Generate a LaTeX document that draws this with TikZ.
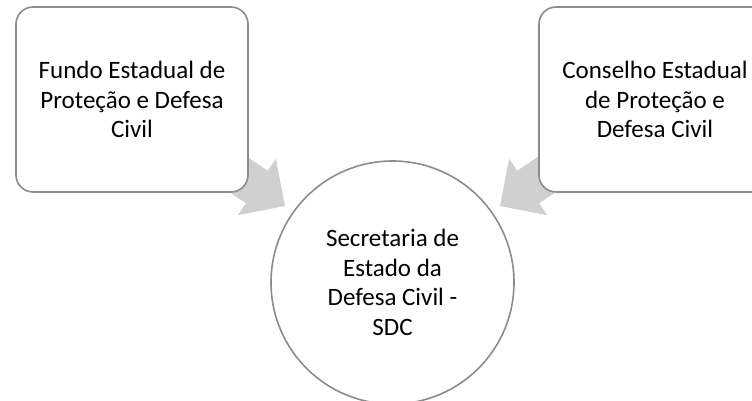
\documentclass[tikz,border=0pt]{standalone}
\usepackage{fontspec}
\setmainfont{Carlito}
\definecolor{edgegray}{RGB}{140,140,140}
\definecolor{arrowgray}{RGB}{208,208,208}
\tikzset{
  boxnode/.style={draw=edgegray, line width=1.6pt, fill=white, rounded corners=17pt,
    minimum width=232pt, minimum height=185pt, align=center, inner sep=0pt,
    font=\fontsize{25}{29.5}\selectfont},
  circnode/.style={draw=edgegray, line width=1.6pt, fill=white, circle,
    minimum size=243pt, align=center, inner sep=0pt,
    font=\fontsize{25}{29.5}\selectfont},
  blockarrow/.style={fill=arrowgray, draw=none}
}
\begin{document}
\begin{tikzpicture}[x=1pt,y=1pt]
\useasboundingbox (0,0) rectangle (752,401);
\clip (0,0) rectangle (752,401);
% arrows (drawn first, tails hidden under boxes)
\begin{scope}[shift={(285,195)},rotate=-34]
  \fill[blockarrow] (0,0) -- (-34,34) -- (-34,19.6) -- (-150,19.6) -- (-150,-19.6) -- (-34,-19.6) -- (-34,-34) -- cycle;
\end{scope}
\begin{scope}[shift={(500,195)},rotate=214]
  \fill[blockarrow] (0,0) -- (-34,34) -- (-34,19.6) -- (-150,19.6) -- (-150,-19.6) -- (-34,-19.6) -- (-34,-34) -- cycle;
\end{scope}
\node[boxnode] (fundo) at (132,301.5) {Fundo Estadual de\\Proteção e Defesa\\Civil};
\node[boxnode] (conselho) at (655,301.5) {Conselho Estadual\\de Proteção e\\Defesa Civil};
\node[circnode] (sdc) at (392.5,118.5) {Secretaria de\\Estado da\\Defesa Civil -\\SDC};
\end{tikzpicture}
\end{document}
